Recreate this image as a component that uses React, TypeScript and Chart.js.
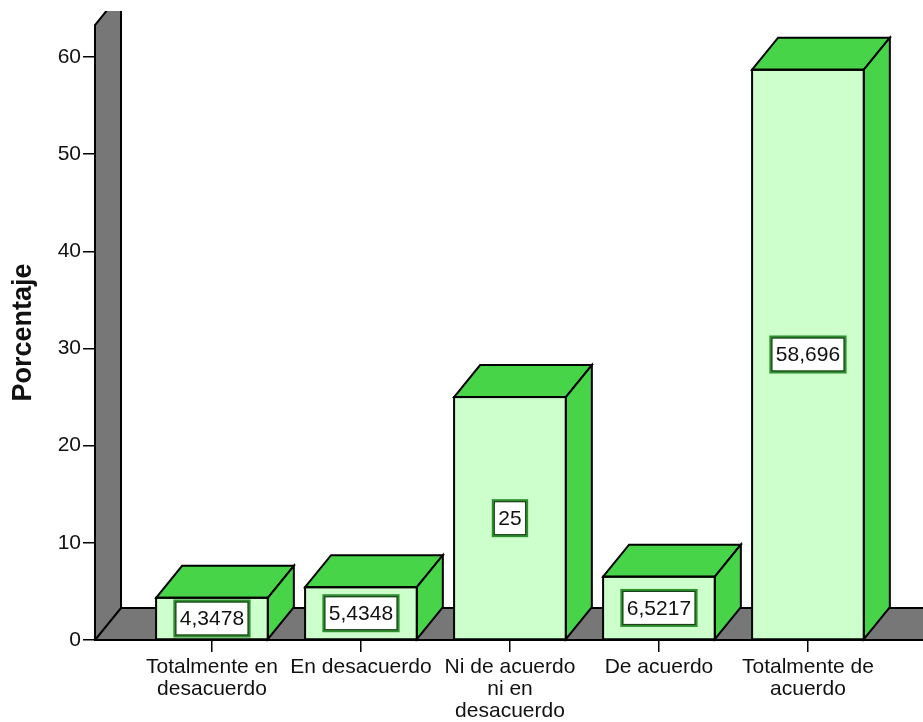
import React, { useEffect, useRef } from 'react';
import { Chart, registerables } from 'chart.js';

Chart.register(...registerables);

const categories: string[][] = [
  ['Totalmente en', 'desacuerdo'],
  ['En desacuerdo'],
  ['Ni de acuerdo', 'ni en', 'desacuerdo'],
  ['De acuerdo'],
  ['Totalmente de', 'acuerdo'],
];
const percentages: number[] = [4.3478, 5.4348, 25, 6.5217, 58.696];
const yTicks: number[] = [0, 10, 20, 30, 40, 50, 60];
const yTitle = 'Porcentaje';

const FONT = 'Arial, "Liberation Sans", sans-serif';
const DX = 26;
const DY = 32;
const FRONT = '#ccffcc';
const SIDE = '#48d448';
const WALL = '#777777';
const INK = '#111111';

const fmt = (v: number) => String(v).replace('.', ',');

const threeD = {
  id: 'threeD',
  beforeDatasetsDraw(chart: any) {
    const { ctx, chartArea: a } = chart;
    const W = chart.width + 40;
    ctx.save();
    ctx.beginPath();
    ctx.rect(0, 11, chart.width, chart.height);
    ctx.clip();
    ctx.fillStyle = WALL;
    ctx.beginPath();
    ctx.moveTo(a.left, a.bottom);
    ctx.lineTo(W, a.bottom);
    ctx.lineTo(W, a.bottom - DY);
    ctx.lineTo(a.left + DX, a.bottom - DY);
    ctx.closePath();
    ctx.fill();
    ctx.beginPath();
    ctx.moveTo(a.left, a.bottom);
    ctx.lineTo(a.left, a.top);
    ctx.lineTo(a.left + DX, a.top - DY);
    ctx.lineTo(a.left + DX, a.bottom - DY);
    ctx.closePath();
    ctx.fill();
    ctx.strokeStyle = '#000';
    ctx.lineWidth = 2;
    ctx.lineJoin = 'miter';
    ctx.beginPath();
    ctx.moveTo(a.left, a.bottom);
    ctx.lineTo(a.left, a.top);
    ctx.lineTo(a.left + DX, a.top - DY);
    ctx.lineTo(a.left + DX, a.bottom - DY);
    ctx.lineTo(W, a.bottom - DY);
    ctx.stroke();
    ctx.beginPath();
    ctx.moveTo(a.left, a.bottom);
    ctx.lineTo(a.left + DX, a.bottom - DY);
    ctx.stroke();
    ctx.beginPath();
    ctx.moveTo(a.left - 1, a.bottom);
    ctx.lineTo(W, a.bottom);
    ctx.stroke();
    ctx.restore();
  },
  afterDatasetsDraw(chart: any) {
    const { ctx } = chart;
    const meta = chart.getDatasetMeta(0);
    ctx.save();
    ctx.lineWidth = 2;
    ctx.strokeStyle = '#000';
    ctx.lineJoin = 'miter';
    meta.data.forEach((bar: any, i: number) => {
      const p = bar.getProps(['x', 'y', 'base', 'width'], true);
      const l = p.x - p.width / 2;
      const r = p.x + p.width / 2;
      const t = p.y;
      const b = p.base;
      ctx.fillStyle = SIDE;
      ctx.beginPath();
      ctx.moveTo(l, t);
      ctx.lineTo(l + DX, t - DY);
      ctx.lineTo(r + DX, t - DY);
      ctx.lineTo(r, t);
      ctx.closePath();
      ctx.fill();
      ctx.stroke();
      ctx.beginPath();
      ctx.moveTo(r, t);
      ctx.lineTo(r + DX, t - DY);
      ctx.lineTo(r + DX, b - DY);
      ctx.lineTo(r, b);
      ctx.closePath();
      ctx.fill();
      ctx.stroke();
      ctx.strokeRect(l, t, r - l, b - t);
      const txt = fmt(percentages[i]);
      ctx.font = `21px ${FONT}`;
      const tw = ctx.measureText(txt).width;
      const bw = tw + 10;
      const bh = 35;
      const cx = p.x;
      const cy = (t + b) / 2;
      ctx.fillStyle = '#ffffff';
      ctx.fillRect(cx - bw / 2, cy - bh / 2, bw, bh);
      ctx.save();
      ctx.strokeStyle = '#2f8f2f';
      ctx.lineWidth = 3;
      ctx.strokeRect(cx - bw / 2, cy - bh / 2, bw, bh);
      ctx.strokeStyle = '#1a3a1a';
      ctx.lineWidth = 1;
      ctx.strokeRect(cx - bw / 2 + 1, cy - bh / 2 + 1, bw - 2, bh - 2);
      ctx.restore();
      ctx.fillStyle = INK;
      ctx.textAlign = 'center';
      ctx.textBaseline = 'middle';
      ctx.fillText(txt, cx, cy + 1);
    });
    ctx.restore();
  },
};

export default function App() {
  const ref = useRef<HTMLCanvasElement | null>(null);
  useEffect(() => {
    if (!ref.current) return;
    const chart = new Chart(ref.current, {
      type: 'bar',
      data: {
        datasets: [
          {
            data: percentages.map((v, i) => ({ x: i, y: v })),
            backgroundColor: FRONT,
            borderColor: '#000',
            borderWidth: 0,
            barPercentage: 0.75,
            categoryPercentage: 1,
          } as any,
        ],
      },
      options: {
        responsive: false,
        animation: false,
        devicePixelRatio: 1,
        layout: { padding: { top: 25, right: 0, left: 0, bottom: 0 } },
        plugins: { legend: { display: false }, tooltip: { enabled: false } },
        scales: {
          x: {
            type: 'linear',
            min: -0.785,
            max: 4.772,
            offset: false,
            afterBuildTicks: (s: any) => {
              s.ticks = categories.map((_, i) => ({ value: i }));
            },
            afterFit: (s: any) => {
              s.height = 82;
            },
            ticks: {
              autoSkip: false,
              maxRotation: 0,
              minRotation: 0,
              callback: (v: any) => categories[v as number] ?? '',
              font: { family: FONT, size: 21, lineHeight: 1.05 },
              color: INK,
              padding: 4,
            },
            grid: {
              offset: false,
              drawOnChartArea: false,
              drawTicks: true,
              tickLength: 12,
              color: '#000',
              lineWidth: 1.5,
            },
            border: { display: false },
          } as any,
          y: {
            min: 0,
            max: 63.3,
            afterBuildTicks: (s: any) => {
              s.ticks = yTicks.map((v) => ({ value: v }));
            },
            afterFit: (s: any) => {
              s.width = 95;
            },
            ticks: { font: { family: FONT, size: 21 }, color: INK, padding: 2 },
            grid: { drawOnChartArea: false, drawTicks: true, tickLength: 12, color: '#000', lineWidth: 1.5 },
            border: { display: false },
            title: {
              display: true,
              text: yTitle,
              font: { family: FONT, size: 27, weight: 'bold' },
              color: INK,
              padding: { top: 7, bottom: 0 },
            },
          } as any,
        },
      },
      plugins: [threeD],
    });
    return () => chart.destroy();
  }, []);
  return (
    <div style={{ position: 'absolute', left: 0, top: 0, width: 923, height: 722 }}>
      <canvas ref={ref} width={923} height={722} style={{ display: 'block' }} />
    </div>
  );
}
